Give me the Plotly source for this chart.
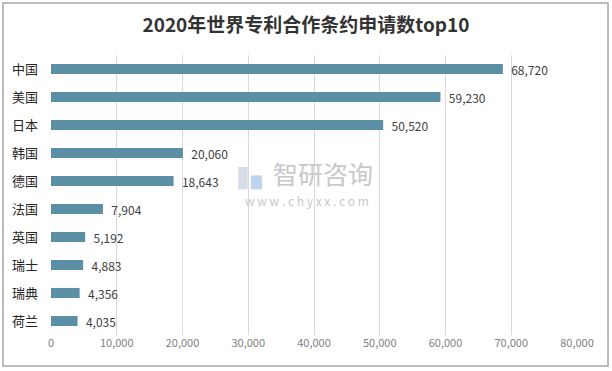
import plotly.graph_objects as go

countries = ["中国", "美国", "日本", "韩国", "德国", "法国", "英国", "瑞士", "瑞典", "荷兰"]
values = [68720, 59230, 50520, 20060, 18643, 7904, 5192, 4883, 4356, 4035]
x_ticks = [0, 10000, 20000, 30000, 40000, 50000, 60000, 70000, 80000]

FONT = "Noto Sans CJK SC, Calibri, Open Sans, sans-serif"

fig = go.Figure(go.Bar(
    y=countries, x=values, orientation="h",
    marker=dict(color="#5B8FA5", line=dict(width=0)),
    width=0.36,
    text=[f"  {v:,}" for v in values], textposition="outside",
    outsidetextfont=dict(size=12, color="#404040", family=FONT),
    constraintext="none",
    cliponaxis=False,
))

fig.update_layout(
    width=612, height=371,
    margin=dict(l=51, r=35, t=55, b=36, autoexpand=False),
    paper_bgcolor="white", plot_bgcolor="white",
    showlegend=False,
    title=dict(text="<b>2020年世界专利合作条约申请数top10</b>", x=0.5, xanchor="center",
               y=0.932, yanchor="middle",
               font=dict(size=19, color="#333333", family=FONT)),
    xaxis=dict(range=[0, 80000], tickvals=x_ticks, tickformat=",", showgrid=True,
               gridcolor="#D9D9D9", gridwidth=1, zeroline=False, showline=False,
               tickfont=dict(size=11, color="#7F7F7F", family=FONT), ticks="",
               automargin=False, fixedrange=True),
    yaxis=dict(autorange="reversed", showgrid=False, showline=False, ticks="",
               ticklabelstandoff=12, automargin=False,
               tickfont=dict(size=13, color="#262626", family=FONT)),
    shapes=[
        dict(type="rect", xref="paper", yref="paper",
             x0=-0.0913, x1=1.059, y0=-0.1107, y1=1.186,
             line=dict(color="#A6A6A6", width=1.5), layer="below"),
        dict(type="rect", xref="paper", yref="paper", x0=0.356, x1=0.374, y0=0.52, y1=0.60,
             line=dict(width=0), fillcolor="#D5DDE8", layer="below"),
        dict(type="rect", xref="paper", yref="paper", x0=0.380, x1=0.401, y0=0.52, y1=0.57,
             line=dict(width=0), fillcolor="#BFD4EE", layer="below"),
    ],
    annotations=[
        dict(text="智研咨询", xref="paper", yref="paper", x=0.517, y=0.578,
             showarrow=False, font=dict(size=25, color="#C8C8C8", family=FONT)),
        dict(text="w w w . c h y x x . c o m", xref="paper", yref="paper", x=0.487, y=0.48,
             showarrow=False, font=dict(size=12, color="#C8C8C8", family=FONT)),
    ],
)

fig.write_html("out.html", post_script="document.body.style.margin='0';",
               config={"displayModeBar": False})
